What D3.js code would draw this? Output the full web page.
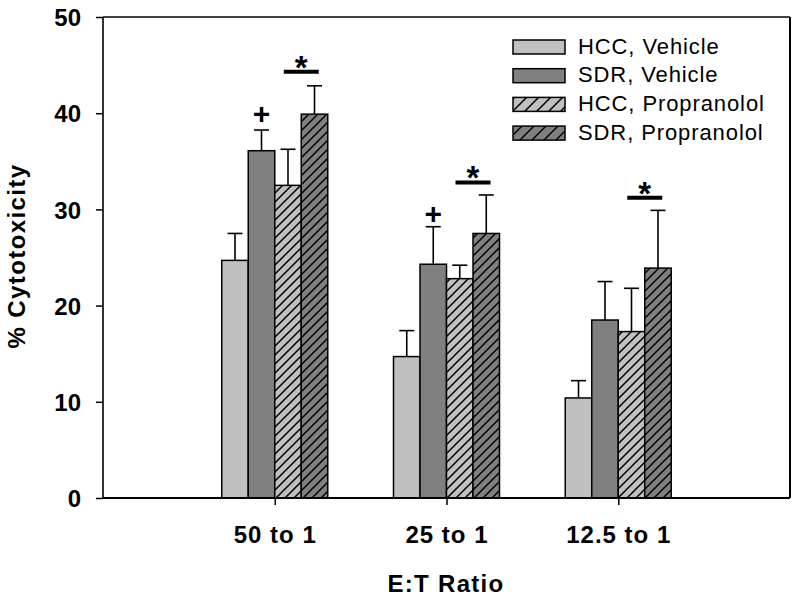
<!DOCTYPE html>
<html>
<head>
<meta charset="utf-8">
<script src="https://cdn.jsdelivr.net/npm/d3@7"></script>
<style>
  html, body { margin: 0; padding: 0; background: #fff; }
  svg { display: block; font-family: Arial, "Liberation Sans", sans-serif; }
</style>
</head>
<body>
<svg id="chart" width="800" height="601"></svg>
<script>
// ---- data ----
const categories = ["50 to 1", "25 to 1", "12.5 to 1"];
const seriesNames = ["HCC, Vehicle", "SDR, Vehicle", "HCC, Propranolol", "SDR, Propranolol"];
const hccVehicle = [24.7, 14.7, 10.4];
const hccVehicleErr = [2.8, 2.7, 1.8];
const sdrVehicle = [36.1, 24.3, 18.5];
const sdrVehicleErr = [2.15, 3.9, 4.0];
const hccPropranolol = [32.5, 22.8, 17.3];
const hccPropranololErr = [3.75, 1.4, 4.5];
const sdrPropranolol = [39.9, 27.5, 23.9];
const sdrPropranololErr = [2.95, 4.0, 6.0];
const yTicks = [0, 10, 20, 30, 40, 50];
// annotations: "+" above SDR Vehicle, "*" significance bars between propranolol bars
const plusGroups = [0, 1];
const plusValues = [39.9, 29.5];
const sigGroups = [0, 1, 2];
const sigValues = [44.3, 32.8, 31.2];

// ---- styles ----
const fills = ["#c0c0c0", "#808080", "url(#hatchLight)", "url(#hatchDark)"];

const svg = d3.select("#chart");
const mLeft = 103, mRight = 790, mTop = 17, mBottom = 498;

const x = d3.scaleLinear().domain([0, 4]).range([mLeft, mRight]);
const y = d3.scaleLinear().domain([0, 50]).range([mBottom, mTop]);
const groupHalf = 53;
const xSub = d3.scaleBand().domain(seriesNames).range([-groupHalf, groupHalf]).padding(0);

// patterns
const defs = svg.append("defs");
function hatch(id, bg, size) {
  const p = defs.append("pattern").attr("id", id).attr("patternUnits", "userSpaceOnUse")
    .attr("width", size).attr("height", size);
  p.append("rect").attr("width", size).attr("height", size).attr("fill", bg);
  p.append("path")
    .attr("d", `M0,${size} L${size},0 M${-size/2},${size/2} L${size/2},${-size/2} M${size/2},${size*1.5} L${size*1.5},${size/2}`)
    .attr("stroke", "#000").attr("stroke-width", 1.5);
}
hatch("hatchLight", "#c0c0c0", 9);
hatch("hatchDark", "#808080", 9);
hatch("hatchLightLg", "#c0c0c0", 12);
hatch("hatchDarkLg", "#808080", 12);

const seriesData = [
  { vals: hccVehicle, errs: hccVehicleErr },
  { vals: sdrVehicle, errs: sdrVehicleErr },
  { vals: hccPropranolol, errs: hccPropranololErr },
  { vals: sdrPropranolol, errs: sdrPropranololErr }
];

const bars = [];
seriesData.forEach((s, si) => {
  categories.forEach((c, ci) => {
    bars.push({ si, ci, v: s.vals[ci], e: s.errs[ci] });
  });
});

// error bars
const eb = svg.append("g").attr("stroke", "#000").attr("stroke-width", 1.6);
bars.forEach(b => {
  const cx = x(b.ci + 1) + xSub(seriesNames[b.si]) + xSub.bandwidth() / 2;
  eb.append("line").attr("x1", cx).attr("x2", cx).attr("y1", y(b.v)).attr("y2", y(b.v + b.e));
  eb.append("line").attr("x1", cx - 7.5).attr("x2", cx + 7.5).attr("y1", y(b.v + b.e)).attr("y2", y(b.v + b.e));
});

// bars
svg.append("g").selectAll("rect").data(bars).join("rect")
  .attr("x", d => x(d.ci + 1) + xSub(seriesNames[d.si]))
  .attr("y", d => y(d.v))
  .attr("width", xSub.bandwidth())
  .attr("height", d => y(0) - y(d.v))
  .attr("fill", d => fills[d.si])
  .attr("stroke", "#000").attr("stroke-width", 1.5);

// plus marks
plusGroups.forEach((g, i) => {
  const cx = x(g + 1) + xSub(seriesNames[1]) + xSub.bandwidth() / 2;
  svg.append("text").attr("x", cx).attr("y", y(plusValues[i]) + 10)
    .attr("text-anchor", "middle").attr("font-size", 30).attr("font-weight", "bold").text("+");
});

// significance bars with stars
sigGroups.forEach((g, i) => {
  const cx = x(g + 1) + xSub(seriesNames[3]);
  const yy = y(sigValues[i]);
  svg.append("line").attr("x1", cx - 17.5).attr("x2", cx + 17.5).attr("y1", yy).attr("y2", yy)
    .attr("stroke", "#000").attr("stroke-width", 4);
  svg.append("text").attr("x", cx).attr("y", yy + 7)
    .attr("text-anchor", "middle").attr("font-size", 33).attr("font-weight", "bold").text("*");
});

// frame
svg.append("line").attr("x1", mLeft).attr("x2", mRight).attr("y1", mTop).attr("y2", mTop).attr("stroke", "#000").attr("stroke-width", 1.5);
svg.append("line").attr("x1", mRight).attr("x2", mRight).attr("y1", mTop).attr("y2", mBottom).attr("stroke", "#000").attr("stroke-width", 2);

// axes
const yAxis = svg.append("g").attr("transform", `translate(${mLeft},0)`)
  .call(d3.axisLeft(y).tickValues(yTicks).tickSize(7).tickPadding(15).tickFormat(d3.format("d")));
yAxis.select(".domain").attr("stroke-width", 1.6).attr("d", `M0,${mTop}V${mBottom}`);
yAxis.selectAll(".tick line").attr("stroke-width", 1.5);
yAxis.selectAll("text").attr("font-size", 24).attr("font-weight", "bold")
  .attr("font-family", "Arial, 'Liberation Sans', sans-serif").attr("fill", "#000").attr("dy", "0.36em");

const xAxis = svg.append("g").attr("transform", `translate(0,${mBottom})`)
  .call(d3.axisBottom(x).tickValues([1, 2, 3]).tickSize(7).tickPadding(21).tickFormat(d => categories[d - 1]));
xAxis.select(".domain").attr("stroke-width", 2).attr("d", `M${mLeft},0H${mRight}`);
xAxis.selectAll(".tick line").attr("stroke-width", 1.5);
xAxis.selectAll("text").attr("font-size", 24).attr("font-weight", "bold").attr("letter-spacing", "1px")
  .attr("font-family", "Arial, 'Liberation Sans', sans-serif").attr("fill", "#000");

// axis titles
svg.append("text").attr("x", 446).attr("y", 592).attr("text-anchor", "middle")
  .attr("font-size", 24).attr("font-weight", "bold").attr("letter-spacing", "1.3px").text("E:T Ratio");
svg.append("text").attr("transform", "translate(25,256) rotate(-90)").attr("text-anchor", "middle")
  .attr("font-size", 24).attr("font-weight", "bold").attr("letter-spacing", "1.4px").text("% Cytotoxicity");

// legend
const legendFills = ["#c0c0c0", "#808080", "url(#hatchLightLg)", "url(#hatchDarkLg)"];
const lg = svg.append("g");
seriesNames.forEach((n, i) => {
  const ry = 40 + i * 28.7;
  lg.append("rect").attr("x", 513).attr("y", ry).attr("width", 52).attr("height", 14)
    .attr("fill", legendFills[i]).attr("stroke", "#000").attr("stroke-width", 1.5);
  lg.append("text").attr("x", 578).attr("y", ry + 13.5).attr("font-size", 22)
    .attr("letter-spacing", "0.9px").text(n);
});
</script>
</body>
</html>
